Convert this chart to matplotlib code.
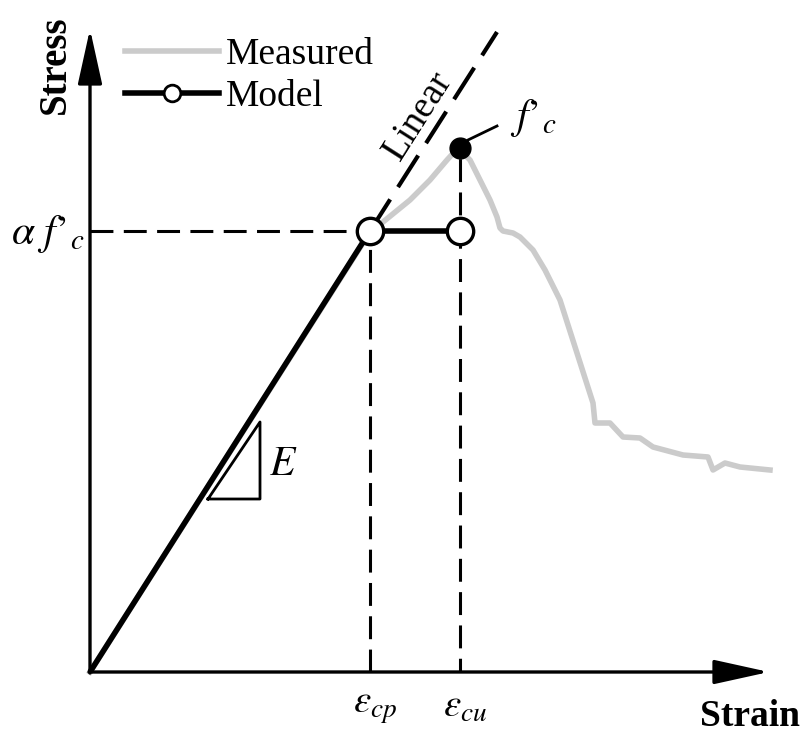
import numpy as np
import matplotlib.pyplot as plt
from matplotlib.lines import Line2D

plt.rcParams['font.family'] = ['Liberation Serif', 'DejaVu Serif']
plt.rcParams['mathtext.fontset'] = 'stix'

# measured stress-strain curve (arbitrary units)
strain_meas = [0, 280, 293, 320, 340, 357, 368, 380, 400, 407, 410, 413, 423, 430, 443,
               455, 470, 503, 505, 520, 533, 550, 563, 593, 618, 623, 635, 650, 680]
stress_meas = [0, 440, 450, 472, 492, 512, 524, 512, 472, 455, 444, 441, 439, 435, 422,
               402, 372, 269, 249, 249, 235, 234, 225, 217, 215, 202, 209, 205, 202]

# model: linear up to alpha*f'c then plateau
eps_cp = 280
eps_cu = 370
alpha_fc = 441
fc = 524
strain_model = [0, eps_cp, eps_cu]
stress_model = [0, alpha_fc, alpha_fc]

# linear extension
strain_lin = [eps_cp, 407]
stress_lin = [alpha_fc, 640]

# axis extents
x_max = 679
y_max = 643

fig = plt.figure(figsize=(8.04, 7.32), dpi=100)
ax = fig.add_axes([0, 0, 1, 1])
ax.set_xlim(-90, 714)
ax.set_ylim(-60, 672)
ax.axis('off')

# axes arrows
arr = dict(arrowstyle='-|>,head_length=3.4,head_width=0.75', lw=2.4, color='black',
           mutation_scale=10, shrinkA=0, shrinkB=0)
ax.annotate('', xy=(0, y_max), xytext=(0, -1), arrowprops=arr)
ax.annotate('', xy=(x_max, 0), xytext=(-1, 0), arrowprops=arr)

# measured
ax.plot(strain_meas, stress_meas, color='#cbcbcb', lw=4, solid_joinstyle='round', zorder=2)

# guide dashed lines
dash = (0, (7.5, 3.4))
ax.plot([0, eps_cp], [alpha_fc, alpha_fc], color='black', lw=2.2, ls=dash, zorder=3)
ax.plot([eps_cp, eps_cp], [0, alpha_fc], color='black', lw=2.2, ls=dash, zorder=3)
ax.plot([eps_cu, eps_cu], [0, fc], color='black', lw=2.2, ls=(3, (7.5, 3.4)), zorder=3)
ax.plot(strain_lin, stress_lin, color='black', lw=3, ls=(0, (9, 3.5)), zorder=3)

# model
ax.plot(strain_model, stress_model, color='black', lw=4, solid_capstyle='butt', zorder=4)
ax.plot(strain_model[1:], stress_model[1:], ls='none', marker='o', ms=19, mfc='white',
        mec='black', mew=2.4, zorder=5)
ax.plot([eps_cu], [fc], ls='none', marker='o', ms=15, color='black', zorder=5)

# slope triangle
tri_x = [118, 170, 170, 118]
tri_y = [173, 173, 250, 173]
ax.plot(tri_x, tri_y, color='black', lw=2, zorder=3)

# leader to f'c
ax.plot([378, 407], [532, 546], color='black', lw=2, zorder=3)

# labels
ax.text(-35, 607, 'Stress', rotation=90, fontsize=28, fontweight='bold', ha='center', va='center')
ax.text(660, -44, 'Strain', fontsize=27, fontweight='bold', ha='center', va='center')
ax.text(-42, 438, "$\\alpha\\ f\u2019_{c}$", fontsize=30, ha='center', va='center')
ax.text(443, 554, "$f\u2019_{c}$", fontsize=30, ha='center', va='center')
ax.text(eps_cp + 5, -35, r"$\varepsilon_{cp}$", fontsize=28, ha='center', va='center')
ax.text(eps_cu + 5, -35, r"$\varepsilon_{cu}$", fontsize=28, ha='center', va='center')
ax.text(193, 207, r"$E$", fontsize=30, ha='center', va='center')
ax.text(328, 556, 'Linear', fontsize=27, rotation=57.5, ha='center', va='center',
        rotation_mode='anchor')

# legend
handles = [Line2D([], [], color='#cbcbcb', lw=4),
           Line2D([], [], color='black', lw=4, marker='o', ms=12, mfc='white', mec='black', mew=2)]
ax.legend(handles, ['Measured', 'Model'], loc='upper left', bbox_to_anchor=(125 / 804, 1 - 38 / 732),
          frameon=False, fontsize=27, handlelength=2.5, handletextpad=0.2, labelspacing=0.2,
          borderpad=0, borderaxespad=0)

fig.savefig('out.png', dpi=100)
